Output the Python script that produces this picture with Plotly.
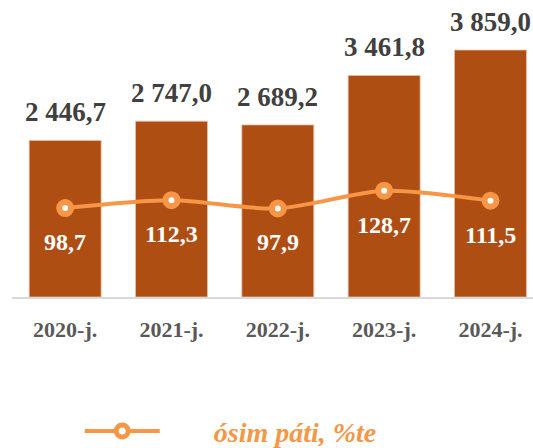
import plotly.graph_objects as go

years = ["2020-j.", "2021-j.", "2022-j.", "2023-j.", "2024-j."]
volume = [2446.7, 2747.0, 2689.2, 3461.8, 3859.0]
growth = [98.7, 112.3, 97.9, 128.7, 111.5]
line_name = "ósim páti, %te"
bar_name = "Kólemi"

def fmt(v):
    return f"{v:,.1f}".replace(",", " ").replace(".", ",")

BAR_COLOR = "#AE4E13"
LINE_COLOR = "#F79646"
SERIF = "Liberation Serif"

fig = go.Figure()
fig.add_trace(go.Bar(
    x=years, y=volume, name=bar_name, showlegend=False,
    marker=dict(color=BAR_COLOR, line=dict(color="#E9C2A6", width=0.8)),
    hoverinfo="skip",
))
fig.add_trace(go.Scatter(
    x=years, y=growth, name="\u00a0" * 7 + line_name, yaxis="y2",
    mode="lines+markers",
    line=dict(color=LINE_COLOR, width=4, shape="spline", smoothing=0.8),
    marker=dict(size=12, color="white", line=dict(color=LINE_COLOR, width=6)),
    hoverinfo="skip",
))

annotations = []
for x, v in zip(years, volume):
    annotations.append(dict(
        x=x, y=v, xref="x", yref="y", text=f"<b>{fmt(v)}</b>", showarrow=False,
        yanchor="middle", yshift=28,
        font=dict(family=SERIF, size=27, color="#404040"),
    ))
for x, v in zip(years, growth):
    annotations.append(dict(
        x=x, y=v, xref="x", yref="y2", text=f"<b>{fmt(v)}</b>", showarrow=False,
        yanchor="middle", yshift=-34,
        font=dict(family=SERIF, size=24, color="white"),
    ))

fig.update_layout(
    width=533, height=448,
    margin=dict(l=12, r=0, t=28, b=151, autoexpand=False),
    paper_bgcolor="white", plot_bgcolor="white",
    bargap=0.323,
    showlegend=True,
    font=dict(family=SERIF),
    legend=dict(
        orientation="h", x=0.13, xanchor="left", y=-0.499, yanchor="middle",
        font=dict(family=SERIF, size=28, color=LINE_COLOR, style="italic", weight="bold"),
        itemwidth=75, bgcolor="rgba(0,0,0,0)",
    ),
    xaxis=dict(
        range=[-0.5, 4.4], showgrid=False, zeroline=False,
        showline=True, linecolor="#D9D9D9", linewidth=1.5,
        ticks="", ticklabelstandoff=12,
        tickfont=dict(family=SERIF, size=22, color="#595959", weight="bold"),
    ),
    yaxis=dict(range=[0, 4203], visible=False, showgrid=False, zeroline=False),
    yaxis2=dict(range=[-55.5, 410.7], overlaying="y", visible=False,
                showgrid=False, zeroline=False),
    annotations=annotations,
)

fig.write_html(
    "out.html",
    config={"displayModeBar": False},
    post_script="document.body.style.margin='0';document.body.style.overflow='hidden';",
)
